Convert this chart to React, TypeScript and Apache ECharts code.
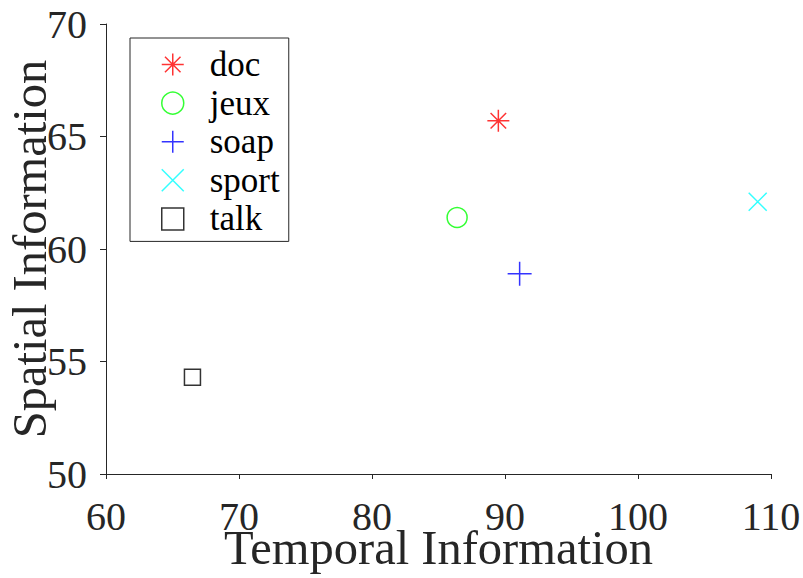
import React, { useEffect, useRef } from "react";
import * as echarts from "echarts";

// One point per clip category: temporal vs spatial information
const categories = ["doc", "jeux", "soap", "sport", "talk"];
const temporalInfo = [89.5, 86.4, 91.1, 109.0, 66.5];
const spatialInfo = [65.7, 61.4, 58.9, 62.1, 54.3];

// Axis ranges and tick steps
const xRange = [60, 110];
const xStep = 10;
const yRange = [50, 70];
const yStep = 5;

const markerColors = ["#ff0000", "#00ff00", "#0000ff", "#00ffff", "#000000"];
const markerSymbols = [
  "path://M0,-10L0,10M-10,0L10,0M-7.07,-7.07L7.07,7.07M-7.07,7.07L7.07,-7.07",
  "circle",
  "path://M0,-10L0,10M-10,0L10,0",
  "path://M-10,-10L10,10M-10,10L10,-10",
  "path://M-8,-8L8,-8L8,8L-8,8Z",
];
const markerSizes = [22, 20, 24, 18, 16];

const FONT = "'Liberation Serif', 'Times New Roman', serif";
const AXIS_COLOR = "#262626";

export default function App() {
  const ref = useRef<HTMLDivElement>(null);

  useEffect(() => {
    if (!ref.current) return;
    const chart = echarts.init(ref.current, undefined, { renderer: "svg" });

    const markerStyle = (i: number) => ({
      color: "transparent",
      borderColor: markerColors[i],
      borderWidth: 1.5,
    });

    const series = categories.map((name, i) => ({
      type: "scatter",
      name,
      data: [[temporalInfo[i], spatialInfo[i]]],
      symbol: markerSymbols[i],
      symbolSize: markerSizes[i],
      itemStyle: markerStyle(i),
      emphasis: { disabled: true },
      silent: true,
    }));

    chart.setOption({
      animation: false,
      backgroundColor: "#ffffff",
      grid: {
        left: 106,
        right: 32,
        top: 24,
        bottom: 104,
        containLabel: false,
        outerBoundsMode: "none",
      },
      legend: {
        orient: "vertical",
        left: 130,
        top: 38,
        padding: [9, 9, 5, 31],
        itemWidth: 64,
        itemHeight: 22,
        itemGap: 3.6,
        selectedMode: false,
        borderColor: AXIS_COLOR,
        borderWidth: 1,
        backgroundColor: "#ffffff",
        textStyle: {
          fontFamily: FONT,
          fontSize: 35,
          color: "#000000",
          lineHeight: 35,
        },
        data: categories.map((name, i) => ({
          name,
          icon: markerSymbols[i],
          itemStyle: markerStyle(i),
        })),
      },
      xAxis: {
        type: "value",
        min: xRange[0],
        max: xRange[1],
        interval: xStep,
        name: "Temporal Information",
        nameLocation: "middle",
        nameGap: 49,
        nameMoveOverlap: false,
        nameTextStyle: { fontFamily: FONT, fontSize: 48.5, color: AXIS_COLOR },
        axisLine: { show: true, lineStyle: { color: AXIS_COLOR, width: 1 } },
        axisTick: { show: true, inside: false, length: 5, lineStyle: { color: AXIS_COLOR } },
        axisLabel: { fontFamily: FONT, fontSize: 40, color: AXIS_COLOR, margin: 22 },
        splitLine: { show: false },
      },
      yAxis: {
        type: "value",
        min: yRange[0],
        max: yRange[1],
        interval: yStep,
        name: "Spatial Information",
        nameLocation: "middle",
        nameGap: 52,
        nameMoveOverlap: false,
        nameTextStyle: { fontFamily: FONT, fontSize: 48.5, color: AXIS_COLOR },
        axisLine: { show: true, lineStyle: { color: AXIS_COLOR, width: 1 } },
        axisTick: { show: true, inside: false, length: 6, lineStyle: { color: AXIS_COLOR } },
        axisLabel: { fontFamily: FONT, fontSize: 40, color: AXIS_COLOR, margin: 19 },
        splitLine: { show: false },
      },
      series,
    });

    return () => chart.dispose();
  }, []);

  return (
    <div
      ref={ref}
      style={{ position: "fixed", left: 0, top: 0, width: 803, height: 578 }}
    />
  );
}
